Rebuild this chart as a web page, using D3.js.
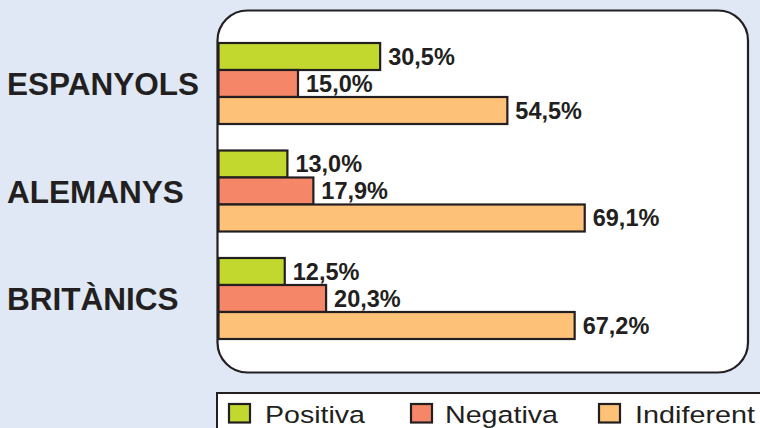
<!DOCTYPE html>
<html><head><meta charset="utf-8">
<script src="https://cdn.jsdelivr.net/npm/d3@7"></script>
<style>html,body{margin:0;padding:0;background:#dfe8f4;}svg{display:block;}</style>
</head><body>
<svg id="c" width="760" height="428"></svg>
<script>
const categories = ["ESPANYOLS", "ALEMANYS", "BRITÀNICS"];
const seriesNames = ["Positiva", "Negativa", "Indiferent"];
const positiva = [30.5, 13.0, 12.5];
const negativa = [15.0, 17.9, 20.3];
const indiferent = [54.5, 69.1, 67.2];
const colors = ["#c3d82e", "#f58667", "#fec178"];
const valuesBySeries = [positiva, negativa, indiferent];

const ink = "#231f20";
const svg = d3.select("#c");
const font = "'Liberation Sans', Arial, Helvetica, sans-serif";

// panel
svg.append("rect").attr("x", 217.5).attr("y", 10.5).attr("width", 530.5).attr("height", 362)
  .attr("rx", 30).attr("ry", 30).attr("fill", "#fff").attr("stroke", ink).attr("stroke-width", 2.2);

const x = d3.scaleLinear().domain([0, 100]).range([218.5, 748.5]);
const y0 = d3.scaleBand().domain(categories).range([43, 339]).paddingInner(0.2465).paddingOuter(0);
const y1 = d3.scaleBand().domain(seriesNames).range([0, y0.bandwidth()]);

const fmt = v => d3.format(".1f")(v).replace(".", ",") + "%";

categories.forEach((cat, ci) => {
  const g = svg.append("g").attr("transform", `translate(0,${y0(cat)})`);
  seriesNames.forEach((s, si) => {
    const v = valuesBySeries[si][ci];
    g.append("rect").attr("x", x(0)).attr("y", y1(s)).attr("width", x(v) - x(0)).attr("height", y1.bandwidth())
      .attr("fill", colors[si]).attr("stroke", ink).attr("stroke-width", 2.2);
  });
  seriesNames.forEach((s, si) => {
    const v = valuesBySeries[si][ci];
    g.append("text").attr("x", x(v) + 8).attr("y", y1(s) + y1.bandwidth() / 2 + 8.4)
      .attr("font-family", font).attr("font-weight", "bold").attr("font-size", 23.5)
      .attr("fill", ink).text(fmt(v));
  });
  svg.append("text").attr("x", 7).attr("y", y0(cat) + y0.bandwidth() / 2 + 11.5)
    .attr("font-family", font).attr("font-weight", "bold").attr("font-size", 31.5)
    .attr("fill", ink).text(cat);
});

// legend
svg.append("rect").attr("x", 217).attr("y", 393).attr("width", 560).attr("height", 50)
  .attr("fill", "#fff").attr("stroke", ink).attr("stroke-width", 2);
const legX = [229, 411, 599];
const legTextX = [265, 445, 635];
const legTextW = [100, 113, 120];
seriesNames.forEach((s, i) => {
  svg.append("rect").attr("x", legX[i]).attr("y", 404).attr("width", 21).attr("height", 18.5)
    .attr("fill", colors[i]).attr("stroke", ink).attr("stroke-width", 2.2);
  svg.append("text").attr("x", legTextX[i]).attr("y", 423).attr("font-family", font)
    .attr("font-size", 24.5).attr("fill", ink)
    .attr("textLength", legTextW[i]).attr("lengthAdjust", "spacingAndGlyphs").text(s);
});
</script>
</body></html>
